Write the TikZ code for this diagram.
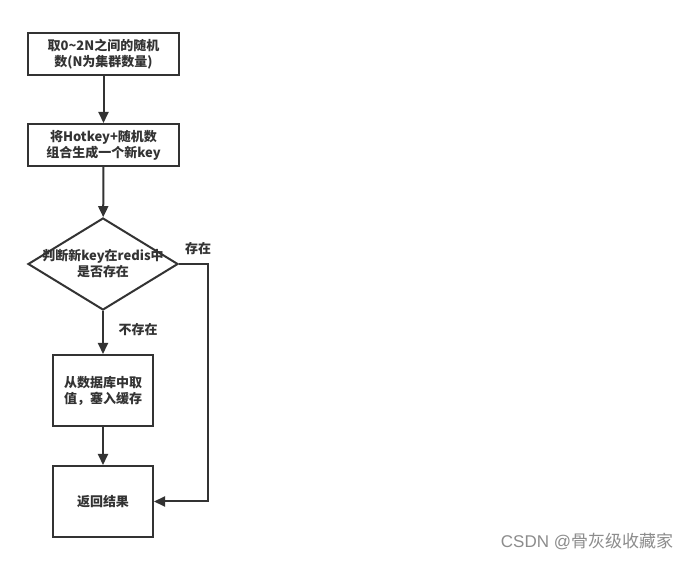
\documentclass[tikz,border=0pt]{standalone}
\usepackage{fontspec}
\setmainfont{Noto Sans CJK SC}
\newfontfamily\wmfont{Liberation Sans}
\usetikzlibrary{shapes.geometric,arrows.meta}
\definecolor{ink}{HTML}{333333}
\tikzset{
  x=1pt,y=-1pt,
  flowbox/.style={draw=ink,line width=2pt,rectangle,inner sep=0pt,align=center,font=\fontsize{13}{16}\selectfont\bfseries,text=ink},
  decide/.style={draw=ink,line width=2pt,diamond,inner sep=0pt,minimum width=150pt,minimum height=92pt,aspect=1.63,align=center},
  flow/.style={draw=ink,line width=2pt,-{Triangle[length=11pt,width=10pt]}},
  lbl/.style={font=\fontsize{13}{16}\selectfont\bfseries,text=ink}
}
\begin{document}
\begin{tikzpicture}
\useasboundingbox[fill=white] (0,0) rectangle (697,561);
\node[flowbox,minimum width=151pt,minimum height=42pt] (b1) at (103.5,54) {取0\textasciitilde 2N之间的随机\\数(N为集群数量)};
\node[flowbox,minimum width=151pt,minimum height=42pt] (b2) at (103.5,145) {将Hotkey+随机数\\组合生成一个新key};
\node[decide] (d) at (103,264) {};
\node[lbl,align=center] (dt) at (103,264) {判断新key在redis中\\是否存在};
\node[flowbox,minimum width=100pt,minimum height=71pt] (b3) at (103,390.5) {从数据库中取\\值，塞入缓存};
\node[flowbox,minimum width=100pt,minimum height=71pt] (b4) at (103,501.5) {返回结果};
\coordinate (c1) at (208,264);
\coordinate (c2) at (208,501.5);
\draw[flow] (b1) -- (b2);
\draw[flow] (b2) -- (d);
\draw[flow] (d) -- (b3);
\draw[flow] (b3) -- (b4);
\draw[flow] (d.east) -- (c1) -- (c2) -- (b4.east);
\node[lbl] (yes) at (198,249) {存在};
\node[lbl] (no) at (138,330) {不存在};
\node[font=\fontsize{17}{20}\selectfont,text=black!45] (wm) at (587,541) {{\wmfont CSDN @}骨灰级收藏家};
\end{tikzpicture}
\end{document}
